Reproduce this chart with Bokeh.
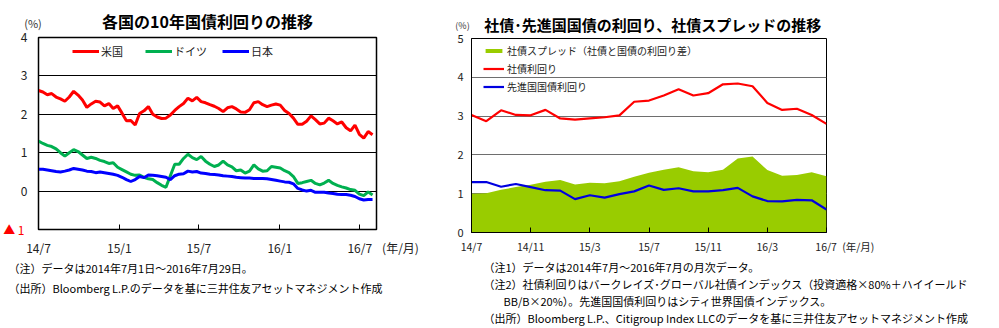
import pandas as pd
from bokeh.plotting import figure
from bokeh.models import FixedTicker, Label, Legend, LegendItem, Range1d, LinearAxis
from bokeh.layouts import row, column
from bokeh.embed import file_html
from bokeh.resources import INLINE

FONT = "Noto Sans CJK JP"

# ---------------- Left chart data (10-day samples) ----------------
sample_dates = pd.date_range("2014-07-01", "2016-07-30", freq="10D")
us_yield = [2.62, 2.58, 2.51, 2.54, 2.45, 2.40, 2.34, 2.45, 2.60, 2.50,
            2.37, 2.18, 2.27, 2.34, 2.32, 2.22, 2.28, 2.15, 2.22, 2.03,
            1.83, 1.84, 1.72, 2.02, 2.09, 2.20, 2.00, 1.93, 1.89, 1.90,
            1.98, 2.10, 2.20, 2.28, 2.42, 2.35, 2.44, 2.33, 2.30, 2.25,
            2.21, 2.15, 2.07, 2.17, 2.20, 2.14, 2.06, 2.05, 2.12, 2.30,
            2.33, 2.25, 2.20, 2.24, 2.27, 2.24, 2.10, 2.02, 1.90, 1.74,
            1.74, 1.82, 1.96, 1.86, 1.75, 1.77, 1.90, 1.83, 1.75, 1.80,
            1.65, 1.57, 1.72, 1.48, 1.38, 1.55, 1.47]
de_yield = [1.30, 1.24, 1.19, 1.16, 1.10, 1.00, 0.91, 1.00, 1.08, 1.03,
            0.94, 0.85, 0.88, 0.85, 0.80, 0.77, 0.72, 0.74, 0.62, 0.56,
            0.50, 0.44, 0.41, 0.42, 0.36, 0.32, 0.30, 0.22, 0.15, 0.10,
            0.40, 0.70, 0.70, 0.85, 0.96, 0.87, 0.82, 0.90, 0.78, 0.70,
            0.64, 0.68, 0.78, 0.68, 0.63, 0.53, 0.55, 0.47, 0.52, 0.68,
            0.58, 0.52, 0.53, 0.64, 0.62, 0.60, 0.53, 0.48, 0.38, 0.20,
            0.22, 0.25, 0.28, 0.20, 0.16, 0.21, 0.28, 0.20, 0.15, 0.11,
            0.08, 0.04, 0.02, -0.08, -0.12, -0.02, -0.10]
jp_yield = [0.57, 0.57, 0.55, 0.53, 0.51, 0.50, 0.52, 0.55, 0.59, 0.57,
            0.55, 0.52, 0.51, 0.48, 0.50, 0.48, 0.46, 0.44, 0.41, 0.36,
            0.30, 0.25, 0.30, 0.38, 0.35, 0.42, 0.41, 0.40, 0.38, 0.36,
            0.30, 0.40, 0.44, 0.45, 0.52, 0.50, 0.51, 0.47, 0.46, 0.44,
            0.43, 0.42, 0.40, 0.39, 0.38, 0.36, 0.35, 0.34, 0.34, 0.33,
            0.33, 0.33, 0.32, 0.30, 0.28, 0.26, 0.24, 0.23, 0.19, 0.07,
            0.03, 0.00, 0.02, -0.03, -0.03, -0.03, -0.05, -0.06, -0.08, -0.09,
            -0.09, -0.11, -0.14, -0.20, -0.23, -0.22, -0.22]
left_tick_dates = ["2014-07-01", "2015-01-01", "2015-07-01", "2016-01-01", "2016-07-01"]
left_tick_labels = ["14/7", "15/1", "15/7", "16/1", "16/7"]
left_axis_end = "2016-08-08"
left_series_names = ["米国", "ドイツ", "日本"]
left_title = "各国の10年国債利回りの推移"

# ---------------- Right chart data (monthly) ----------------
months = ["14/7", "14/8", "14/9", "14/10", "14/11", "14/12", "15/1", "15/2", "15/3",
          "15/4", "15/5", "15/6", "15/7", "15/8", "15/9", "15/10", "15/11", "15/12",
          "16/1", "16/2", "16/3", "16/4", "16/5", "16/6", "16/7"]
corp_yield = [3.03, 2.87, 3.15, 3.03, 3.02, 3.16, 2.94, 2.91, 2.94, 2.97, 3.02, 3.37, 3.40,
              3.53, 3.69, 3.53, 3.59, 3.82, 3.84, 3.77, 3.34, 3.16, 3.19, 3.03, 2.80]
govt_yield = [1.30, 1.30, 1.18, 1.25, 1.17, 1.09, 1.08, 0.86, 0.96, 0.90, 0.99, 1.06, 1.21,
              1.10, 1.14, 1.06, 1.06, 1.09, 1.15, 0.93, 0.81, 0.80, 0.84, 0.83, 0.59]
spread = [1.00, 1.01, 1.10, 1.17, 1.23, 1.31, 1.35, 1.24, 1.28, 1.27, 1.32, 1.44, 1.54,
          1.62, 1.68, 1.58, 1.55, 1.62, 1.91, 1.96, 1.61, 1.46, 1.48, 1.55, 1.45]
right_tick_labels = ["14/7", "14/11", "15/3", "15/7", "15/11", "16/3", "16/7"]
right_series_names = ["社債スプレッド（社債と国債の利回り差）", "社債利回り", "先進国国債利回り"]
right_title = "社債･先進国国債の利回り、社債スプレッドの推移"

UNIT_LABEL = "(年/月)"
PCT_LABEL = "(%)"
NEG_LABEL = "▲ 1"
IDSP, ENSP = "\u3000", "\u2002"


def strip(width, height):
    s = figure(width=width, height=height, x_range=Range1d(0, width), y_range=Range1d(height, 0),
               output_backend="svg", toolbar_location=None, title=None,
               x_axis_location=None, y_axis_location=None, min_border=0, frame_align=False)
    s.outline_line_color = None
    s.grid.grid_line_color = None
    s.background_fill_color = "#FFFFFF"
    s.border_fill_color = "#FFFFFF"
    return s


def txt(s, x, y, text, size, color="#000000"):
    s.add_layout(Label(x=x, y=y, text=text, text_font=FONT, text_font_size=size,
                       text_color=color, text_align="left", text_baseline="middle"))


def style_axes(p, xsize, ysize, xstand, ystand):
    p.xaxis.major_tick_in = 5
    p.xaxis.major_tick_out = 0
    p.xaxis.minor_tick_line_color = None
    p.xaxis.axis_line_color = "#000000"
    p.xaxis.major_tick_line_color = "#000000"
    p.xaxis.major_label_text_font = FONT
    p.xaxis.major_label_text_font_size = xsize
    p.xaxis.major_label_text_color = "#222222"
    p.xaxis.major_label_standoff = xstand
    p.yaxis.major_tick_in = 0
    p.yaxis.major_tick_out = 0
    p.yaxis.minor_tick_line_color = None
    p.yaxis.axis_line_color = "#000000"
    p.yaxis.major_label_text_font = FONT
    p.yaxis.major_label_text_font_size = ysize
    p.yaxis.major_label_text_color = "#222222"
    p.yaxis.major_label_standoff = ystand


def extra_axis(ticks, overrides, standoff, color, size, **kw):
    return LinearAxis(ticker=FixedTicker(ticks=ticks), major_label_overrides=overrides,
                      major_tick_in=0, major_tick_out=0, axis_line_color=None,
                      minor_tick_line_color=None, major_label_standoff=standoff,
                      major_label_text_color=color, major_label_text_font=FONT,
                      major_label_text_font_size=size, **kw)


# ================= Left chart =================
start = sample_dates[0]
xdays = [(d - start).days for d in sample_dates]
tick_days = [(pd.Timestamp(d) - start).days for d in left_tick_dates]
end_day = (pd.Timestamp(left_axis_end) - start).days

L_W = 440
L_BT, L_FH, L_BB = 37, 193, 28
p1 = figure(width=L_W, height=L_BT + L_FH + L_BB, x_range=Range1d(0, end_day), y_range=Range1d(-1, 4),
            output_backend="svg", toolbar_location=None, title=None, frame_align=False,
            min_border_left=36, min_border_right=L_W - 376, min_border_top=L_BT, min_border_bottom=L_BB)
p1.outline_line_color = "#000000"
p1.outline_line_width = 1.5
p1.border_fill_color = "#FFFFFF"
style_axes(p1, "12px", "12px", 9, 11)
lticks = tick_days + [end_day]
loverrides = {t: l for t, l in zip(tick_days, left_tick_labels)}
loverrides[end_day] = IDSP * 4 + UNIT_LABEL
p1.xaxis.ticker = FixedTicker(ticks=lticks)
p1.xaxis.major_label_overrides = loverrides
p1.yaxis.ticker = FixedTicker(ticks=[0, 1, 2, 3, 4])
p1.xgrid.grid_line_color = None
p1.ygrid.ticker = FixedTicker(ticks=[0, 1, 2, 3])
p1.ygrid.grid_line_color = "#000000"
p1.ygrid.grid_line_width = 1.2

# red "▲ 1" label for the -1 tick (outer left axis)
p1.add_layout(extra_axis([-1], {-1: NEG_LABEL}, -7, "#FF0000", "12px"), "left")
# "(%)" unit at the top-left corner and the chart title
p1.add_layout(extra_axis([0], {0: PCT_LABEL + IDSP}, 7, "#333333", "11px",
                         axis_label=left_title, axis_label_standoff=-21,
                         axis_label_text_font=FONT, axis_label_text_font_size="16px",
                         axis_label_text_font_style="bold", axis_label_text_color="#000000"),
              "above")

r_us = p1.line(xdays, us_yield, line_color="#FF0000", line_width=3)
r_de = p1.line(xdays, de_yield, line_color="#00B050", line_width=3)
r_jp = p1.line(xdays, jp_yield, line_color="#0000FF", line_width=3)

for rend, name, lx in zip([r_us, r_de, r_jp], left_series_names, [70, 143, 220]):
    lg = Legend(items=[LegendItem(label=name, renderers=[rend])], location=(lx - 36, 230 - 60),
                orientation="horizontal", glyph_width=27, glyph_height=16, label_height=16,
                label_standoff=2, padding=0, margin=0, spacing=0,
                border_line_color=None, background_fill_alpha=0,
                label_text_font=FONT, label_text_font_size="11px", label_text_color="#222222")
    p1.add_layout(lg)

bot1_top = L_BT + L_FH + L_BB
bot1 = strip(L_W, 328 - bot1_top)
txt(bot1, 8, 267 - bot1_top, "（注）データは2014年7月1日～2016年7月29日。", "11px")
txt(bot1, 8, 287 - bot1_top, "（出所）Bloomberg L.P.のデータを基に三井住友アセットマネジメント作成", "11px")

# ================= Right chart =================
xi = list(range(len(months)))
R_W = 559
R_BT, R_FH, R_BB = 38, 194, 25
p2 = figure(width=R_W, height=R_BT + R_FH + R_BB, x_range=Range1d(0, len(months) - 1),
            y_range=Range1d(0, 5), output_backend="svg", toolbar_location=None, title=None,
            frame_align=False, min_border_left=31, min_border_right=R_W - (826 - 440),
            min_border_top=R_BT, min_border_bottom=R_BB)
p2.outline_line_color = "#000000"
p2.outline_line_width = 1
p2.border_fill_color = "#FFFFFF"
style_axes(p2, "10.5px", "11px", 6, 8)
rticks = [months.index(m) for m in right_tick_labels]
roverrides = {t: months[t] for t in rticks}
last = len(months) - 1
roverrides[last] = IDSP * 3 + ENSP + months[last] + ENSP + UNIT_LABEL
p2.xaxis.ticker = FixedTicker(ticks=rticks)
p2.xaxis.major_label_overrides = roverrides
p2.yaxis.ticker = FixedTicker(ticks=[0, 1, 2, 3, 4, 5])
p2.xgrid.grid_line_color = None
p2.ygrid.ticker = FixedTicker(ticks=[1, 2, 3, 4])
p2.ygrid.grid_line_color = "#6E6E6E"
p2.ygrid.grid_line_width = 1

p2.add_layout(extra_axis([0], {0: PCT_LABEL + IDSP * 2}, 7, "#333333", "9px",
                         axis_label=ENSP + right_title, axis_label_standoff=-19,
                         axis_label_text_font=FONT, axis_label_text_font_size="15px",
                         axis_label_text_font_style="bold", axis_label_text_color="#000000"),
              "above")

r_sp = p2.varea(x=xi, y1=[0] * len(xi), y2=spread, fill_color="#99CC00")
r_cy = p2.line(xi, corp_yield, line_color="#FF0000", line_width=2.2)
r_gy = p2.line(xi, govt_yield, line_color="#0000E0", line_width=2.2)

lg2 = Legend(items=[LegendItem(label=n, renderers=[r]) for n, r in
                    zip(right_series_names, [r_sp, r_cy, r_gy])],
             location=(483 - 471, 232 - 95), orientation="vertical",
             glyph_width=21, glyph_height=5, label_height=18, label_standoff=3,
             padding=0, margin=0, spacing=0, border_line_color=None, background_fill_alpha=0,
             label_text_font=FONT, label_text_font_size="10px", label_text_color="#222222")
p2.add_layout(lg2)

bot2_top = R_BT + R_FH + R_BB
bot2 = strip(R_W, 328 - bot2_top)
txt(bot2, 43, 266 - bot2_top, "（注1）データは2014年7月～2016年7月の月次データ。", "11px")
txt(bot2, 43, 283 - bot2_top,
    "（注2）社債利回りはバークレイズ･グローバル社債インデックス（投資適格×80%＋ハイイールド", "11px")
txt(bot2, 63, 300 - bot2_top, "BB/B×20%）。先進国国債利回りはシティ世界国債インデックス。", "11px")
txt(bot2, 43, 317 - bot2_top,
    "（出所）Bloomberg L.P.、Citigroup Index LLCのデータを基に三井住友アセットマネジメント作成", "11px")

layout = row(column(p1, bot1), column(p2, bot2))
open("out.html", "w").write(file_html(layout, INLINE))
